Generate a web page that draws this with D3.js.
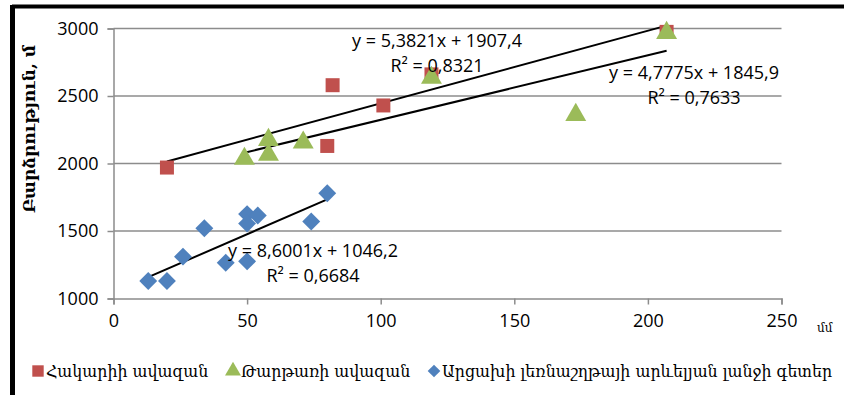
<!DOCTYPE html>
<html>
<head>
<meta charset="utf-8">
<script src="https://cdn.jsdelivr.net/npm/d3@7"></script>
<style>
  body { margin: 0; background: #fff; }
  svg { display: block; }
</style>
</head>
<body>
<svg id="chart"></svg>
<script>
// series: [x (մմ), y (մ)]
var hakari = [[20, 1970], [80, 2130], [82, 2580], [101, 2430], [119, 2660], [207, 2975]];
var tartar = [[49, 2035], [58, 2175], [58, 2065], [71, 2155], [119, 2635], [173, 2360], [207, 2967]];
var artsakh = [[13, 1130], [20, 1130], [26, 1310], [34, 1520], [42, 1265], [50, 1275],
               [50, 1625], [50, 1555], [54, 1615], [74, 1570], [80, 1780]];

var seriesNames = ["Հակարիի ավազան", "Թարթառի ավազան", "Արցախի լեռնաշղթայի արևելյան լանջի գետեր"];
var trendCoefs = [[5.3821, 1907.4], [4.7775, 1845.9], [8.6001, 1046.2]];
var trendLabels = [["y = 5,3821x + 1907,4", "R² = 0,8321"],
                   ["y = 4,7775x + 1845,9", "R² = 0,7633"],
                   ["y = 8,6001x + 1046,2", "R² = 0,6684"]];
var xTicks = [0, 50, 100, 150, 200, 250];
var yTicks = [1000, 1500, 2000, 2500, 3000];

var width = 844, height = 395;
var colors = ["#C0504D", "#9BBB59", "#4F81BD"];
var numFont = "'Open Sans', sans-serif";
var armFont = "'DejaVu Serif', serif";

var svg = d3.select("#chart").attr("width", width).attr("height", height);

// frame (only top and left visible)
svg.append("line").attr("x1", 12).attr("x2", width).attr("y1", 6.5).attr("y2", 6.5)
  .attr("stroke", "#000").attr("stroke-width", 4);
svg.append("line").attr("x1", 12.5).attr("x2", 12.5).attr("y1", 5).attr("y2", height)
  .attr("stroke", "#000").attr("stroke-width", 5);

var x = d3.scaleLinear().domain([0, 250]).range([113.5, 781.5]);
var y = d3.scaleLinear().domain([1000, 3000]).range([298.5, 28.5]);

// gridlines
svg.append("g").selectAll("line")
    .data(yTicks.slice(1))
  .enter().append("line")
    .attr("x1", x(0)).attr("x2", x(250))
    .attr("y1", (d) => y(d)).attr("y2", (d) => y(d))
    .attr("stroke", "#8c8c8c").attr("stroke-width", 1.5);

var yAxis = svg.append("g")
  .attr("transform", `translate(${x(0)},0)`)
  .call(d3.axisLeft(y).tickValues(yTicks).tickFormat(d3.format("d")).tickSize(6).tickPadding(9));
var xAxis = svg.append("g")
  .attr("transform", `translate(0,${y(1000)})`)
  .call(d3.axisBottom(x).tickValues(xTicks).tickFormat(d3.format("d")).tickSize(6).tickPadding(10));

[xAxis, yAxis].forEach((a) => {
  a.select(".domain").attr("stroke", "#8c8c8c").attr("stroke-width", 1.5);
  a.selectAll(".tick line").attr("stroke", "#8c8c8c").attr("stroke-width", 1.5);
  a.selectAll("text").attr("font-family", numFont).attr("font-size", 18).attr("fill", "#000");
});

svg.append("text").attr("x", 817).attr("y", 332)
  .attr("font-family", armFont).attr("font-size", 12).text("մմ");

svg.append("text")
  .attr("transform", "translate(35,129) rotate(-90)")
  .attr("text-anchor", "middle")
  .attr("font-family", armFont).attr("font-weight", "bold").attr("font-size", 17)
  .text("Բարձրություն, մ");

var symSize = [196, 190, 160];
var allSeries = [hakari, tartar, artsakh];
var symType = [d3.symbolSquare, d3.symbolTriangle, d3.symbolSquare];
var symRot = [0, 0, 45];

// trendlines
allSeries.forEach((s, i) => {
  var ext = d3.extent(s, (d) => d[0]);
  var k = trendCoefs[i];
  svg.append("line")
    .attr("x1", x(ext[0])).attr("y1", y(k[0] * ext[0] + k[1]))
    .attr("x2", x(ext[1])).attr("y2", y(k[0] * ext[1] + k[1]))
    .attr("stroke", "#000").attr("stroke-width", 2);
});

// points: blue first, then red, then green on top
[2, 0, 1].forEach((i) => {
  svg.append("g").selectAll("path")
      .data(allSeries[i])
    .enter().append("path")
      .attr("transform", (d) => `translate(${x(d[0])},${y(d[1])}) rotate(${symRot[i]})`)
      .attr("d", d3.symbol().type(symType[i]).size(symSize[i]))
      .attr("fill", colors[i]);
});

// trend labels
var labelPos = [[437, 47], [694, 79], [313, 257]];
trendLabels.forEach((t, i) => {
  var g = svg.append("text")
    .attr("text-anchor", "middle")
    .attr("font-family", numFont).attr("font-size", 18);
  g.append("tspan").attr("x", labelPos[i][0]).attr("y", labelPos[i][1]).text(t[0]);
  g.append("tspan").attr("x", labelPos[i][0]).attr("y", labelPos[i][1] + 25).text(t[1]);
});

// legend
var legX = [38, 233, 434];
var legend = svg.append("g").selectAll("g")
    .data(seriesNames)
  .enter().append("g")
    .attr("transform", (d, i) => `translate(${legX[i]},371)`);
legend.append("path")
  .attr("transform", (d, i) => `rotate(${symRot[i]})`)
  .attr("d", (d, i) => d3.symbol().type(symType[i]).size([130, 110, 80][i])())
  .attr("fill", (d, i) => colors[i]);
legend.append("text")
  .attr("x", 8).attr("y", 6)
  .attr("font-family", armFont).attr("font-size", 15.8)
  .text((d) => d);
</script>
</body>
</html>
